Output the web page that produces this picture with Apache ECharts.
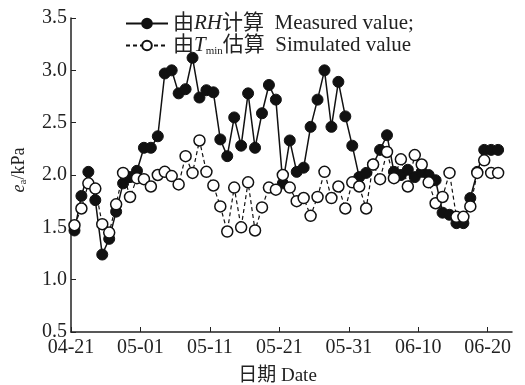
<!DOCTYPE html>
<html>
<head>
<meta charset="utf-8">
<script src="https://cdn.jsdelivr.net/npm/echarts@6/dist/echarts.min.js"></script>
<style>
	html, body { margin: 0; padding: 0; background: #fff; }
	#chart { width: 525px; height: 385px; }
</style>
</head>
<body>
<div id="chart"></div>
<script>
// 天数 (自 04-21 起, 日均值取正午)
const days = [0.5, 1.5, 2.5, 3.5, 4.5, 5.5, 6.5, 7.5, 8.5, 9.5, 10.5, 11.5, 12.5, 13.5, 14.5,
	15.5, 16.5, 17.5, 18.5, 19.5, 20.5, 21.5, 22.5, 23.5, 24.5, 25.5, 26.5, 27.5, 28.5, 29.5,
	30.5, 31.5, 32.5, 33.5, 34.5, 35.5, 36.5, 37.5, 38.5, 39.5, 40.5, 41.5, 42.5, 43.5, 44.5,
	45.5, 46.5, 47.5, 48.5, 49.5, 50.5, 51.5, 52.5, 53.5, 54.5, 55.5, 56.5, 57.5, 58.5, 59.5,
	60.5, 61.5];
const tickLabels = ['04-21', '05-01', '05-11', '05-21', '05-31', '06-10', '06-20'];

// 由RH计算 Measured value
const measured = [1.47, 1.80, 2.03, 1.76, 1.24, 1.39, 1.65, 1.92, 1.98, 2.04,
	2.26, 2.26, 2.37, 2.97, 3.00, 2.78, 2.82, 3.12, 2.74, 2.81,
	2.79, 2.34, 2.18, 2.55, 2.28, 2.78, 2.26, 2.59, 2.86, 2.72,
	1.92, 2.33, 2.03, 2.07, 2.46, 2.72, 3.00, 2.46, 2.89, 2.56,
	2.28, 1.98, 2.02, 2.10, 2.24, 2.38, 2.03, 2.00, 2.05, 1.98,
	2.03, 2.00, 1.95, 1.64, 1.62, 1.54, 1.54, 1.78, 2.03, 2.24, 2.24, 2.24];

// 由Tmin估算 Simulated value
const simulated = [1.52, 1.68, 1.92, 1.87, 1.53, 1.45, 1.72, 2.02, 1.79, 1.97,
	1.96, 1.89, 2.00, 2.03, 1.99, 1.91, 2.18, 2.02, 2.33, 2.03,
	1.90, 1.70, 1.46, 1.88, 1.50, 1.93, 1.47, 1.69, 1.88, 1.86,
	2.00, 1.88, 1.75, 1.78, 1.61, 1.79, 2.03, 1.78, 1.89, 1.68,
	1.93, 1.89, 1.68, 2.10, 1.96, 2.22, 1.97, 2.15, 1.89, 2.19,
	2.10, 1.93, 1.73, 1.79, 2.02, 1.60, 1.60, 1.70, 2.02, 2.14, 2.02, 2.02];

const serif = '"Liberation Serif", "Noto Sans CJK SC", serif';
const txt = '#222';

let myChart = echarts.init(document.getElementById('chart'));
myChart.setOption({
	animation: false,
	grid: { left: 71, right: 13, top: 18, bottom: 53, outerBoundsMode: 'none' },
	legend: {
		orient: 'vertical',
		left: 120,
		top: 8,
		itemWidth: 42,
		itemHeight: 12,
		itemGap: 1,
		textStyle: {
			fontFamily: serif, fontSize: 21, color: txt,
			rich: {
				a: { fontFamily: serif, fontSize: 21, color: txt },
				i: { fontFamily: serif, fontSize: 21, color: txt, fontStyle: 'italic' },
				sub: { fontFamily: serif, fontSize: 11, color: txt, padding: [12, 0, 0, 0] }
			}
		},
		formatter: function (name) {
			if (name === 'measured') return '{a|由}{i|RH}{a|计算  Measured value;}';
			return '{a|由}{i|T}{sub|min}{a|估算  Simulated value}';
		},
		data: ['measured', 'simulated']
	},
	xAxis: {
		type: 'value',
		min: 0,
		max: 63.5,
		interval: 10,
		name: '日期 Date',
		nameLocation: 'middle',
		nameGap: 35,
		nameTextStyle: { fontFamily: serif, fontSize: 19, color: txt, padding: [0, 28, 0, 0] },
		axisLine: { lineStyle: { color: '#222', width: 1.5 } },
		axisTick: { inside: true, length: 5, lineStyle: { color: '#222' } },
		splitLine: { show: false },
		axisLabel: {
			fontFamily: serif, fontSize: 20, color: txt, margin: 6,
			showMaxLabel: false,
			formatter: function (v) { return tickLabels[Math.round(v / 10)] || ''; }
		}
	},
	yAxis: {
		type: 'value',
		min: 0.5,
		max: 3.5,
		interval: 0.5,
		name: '{i|e}{sub|a}{t|/kPa}',
		nameLocation: 'middle',
		nameGap: 42,
		nameRotate: 90,
		nameTextStyle: {
			padding: [0, 0, 0, 10],
			rich: {
				i: { fontFamily: serif, fontSize: 18, color: txt, fontStyle: 'italic' },
				sub: { fontFamily: serif, fontSize: 11, color: txt, padding: [9, 0, 0, 0] },
				t: { fontFamily: serif, fontSize: 18, color: txt }
			}
		},
		axisLine: { show: true, lineStyle: { color: '#222', width: 1.5 } },
		axisTick: { show: true, inside: true, length: 5, lineStyle: { color: '#222' } },
		splitLine: { show: false },
		axisLabel: {
			fontFamily: serif, fontSize: 20, color: txt, margin: 4,
			formatter: function (v) { return v.toFixed(1); }
		}
	},
	series: [
		{
			name: 'measured',
			type: 'line',
			data: days.map((d, i) => [d, measured[i]]),
			symbol: 'circle',
			symbolSize: 11,
			itemStyle: { color: '#111', borderColor: '#111', borderWidth: 1 },
			lineStyle: { color: '#111', width: 1.5 },
			z: 2
		},
		{
			name: 'simulated',
			type: 'line',
			data: days.map((d, i) => [d, simulated[i]]),
			symbol: 'circle',
			symbolSize: 11,
			itemStyle: { color: '#fff', borderColor: '#111', borderWidth: 1.5 },
			lineStyle: { color: '#111', width: 1.2, type: [4, 3] },
			z: 3
		}
	]
});
</script>
</body>
</html>
